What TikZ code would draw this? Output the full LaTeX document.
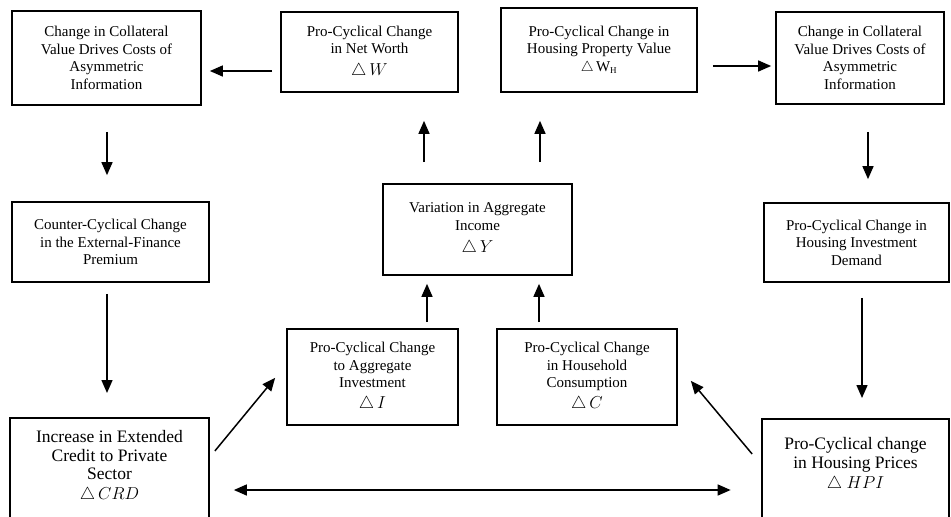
\documentclass[tikz,border=0pt]{standalone}
\usepackage{fontspec}
\setmainfont{Liberation Serif}
\usepackage{tikz}
\usetikzlibrary{arrows.meta}

\newcommand{\dvar}[1]{{\fontsize{17}{20}\selectfont$\triangle\,#1$}}

\begin{document}
\begin{tikzpicture}[x=1pt,y=-1pt,>={Triangle[length=13pt,width=11pt]},
  box/.style={draw,line width=1.7pt,align=center,inner sep=3pt,font=\fontsize{15}{17.5}\selectfont},
  bigbox/.style={draw,line width=1.7pt,align=center,anchor=north,inner xsep=3pt,text depth=45pt,font=\fontsize{17.5}{18.5}\selectfont},
  arr/.style={->,line width=1.5pt}]
\clip (0,0) rectangle (951,517);

\node (cvl) [box,minimum width=189pt,minimum height=94pt] at (106.5,58) {Change in Collateral\\Value Drives Costs of\\Asymmetric\\Information};
\node (nw) [box,minimum width=177pt,minimum height=80pt] at (369.5,52) {Pro-Cyclical Change\\in Net Worth\\[4pt]\dvar{W}};
\node (hp) [box,minimum width=196pt,minimum height=84pt] at (599,50) {Pro-Cyclical Change in\\Housing Property Value\\$\triangle$\,W\textsubscript{\fontsize{9}{9}\selectfont H}};
\node (cvr) [box,minimum width=168pt,minimum height=92pt] at (860,58) {Change in Collateral\\Value Drives Costs of\\Asymmetric\\Information};
\node (efp) [box,minimum width=197pt,minimum height=80pt] at (110.5,242) {Counter-Cyclical Change\\in the External-Finance\\Premium};
\node (inc) [box,minimum width=189pt,minimum height=91pt] at (477.5,229.5) {Variation in Aggregate\\Income\\[5pt]\dvar{Y}};
\node (hid) [box,minimum width=185pt,minimum height=79pt] at (856.5,242.5) {Pro-Cyclical Change in\\Housing Investment\\Demand};
\node (inv) [box,minimum width=171pt,minimum height=96pt] at (372.5,377) {Pro-Cyclical Change\\to Aggregate\\Investment\\[3pt]\dvar{I}};
\node (cons) [box,minimum width=180pt,minimum height=96pt] at (587,377) {Pro-Cyclical Change\\in Household\\Consumption\\[3pt]\dvar{C}};
\node (crd) [bigbox,minimum width=199pt,inner ysep=13pt] at (109.5,417) {Increase in Extended\\Credit to Private\\Sector\\[1pt]$\triangle\,CRD$};
\node (hpi) [bigbox,minimum width=187pt,inner ysep=19pt] at (855.5,418) {Pro-Cyclical change\\in Housing Prices\\[2pt]$\triangle\ HPI$};

% top row
\draw[arr] ([xshift=-8pt,yshift=-19pt]nw.west) -- ([xshift=8pt,yshift=-13pt]cvl.east);
\draw[arr] ([xshift=15pt,yshift=-16pt]hp.east) -- ([xshift=-4pt,yshift=-8pt]cvr.west);
% left column
\draw[arr] ([xshift=0.5pt,yshift=-26pt]cvl.south) -- ([xshift=-3.5pt,yshift=26pt]efp.north);
\draw[arr] ([xshift=-3.5pt,yshift=-11pt]efp.south) -- ([xshift=-2.5pt,yshift=24pt]crd.north);
% right column
\draw[arr] ([xshift=8pt,yshift=-27pt]cvr.south) -- ([xshift=11.5pt,yshift=23pt]hid.north);
\draw[arr] ([xshift=5.5pt,yshift=-15pt]hid.south) -- ([xshift=6.5pt,yshift=20pt]hpi.north);
% centre
\draw[arr] ([xshift=-53.5pt,yshift=21pt]inc.north) -- ([xshift=54.5pt,yshift=-28pt]nw.south);
\draw[arr] ([xshift=62.5pt,yshift=21pt]inc.north) -- ([xshift=-59pt,yshift=-28pt]hp.south);
\draw[arr] ([xshift=54.5pt,yshift=6pt]inv.north) -- ([xshift=-50.5pt,yshift=-8pt]inc.south);
\draw[arr] ([xshift=-48pt,yshift=6pt]cons.north) -- ([xshift=61.5pt,yshift=-8pt]inc.south);
% bottom
\draw[arr] ([xshift=5pt,yshift=-34pt]crd.north east) -- ([xshift=-11pt,yshift=48pt]inv.south west);
\draw[arr] ([xshift=-9pt,yshift=-36pt]hpi.north west) -- ([xshift=13pt,yshift=45pt]cons.south east);
\draw[arr,<->] ([xshift=24pt,yshift=-73pt]crd.north east) -- ([xshift=-30.5pt,yshift=-72pt]hpi.north west);
\end{tikzpicture}
\end{document}
